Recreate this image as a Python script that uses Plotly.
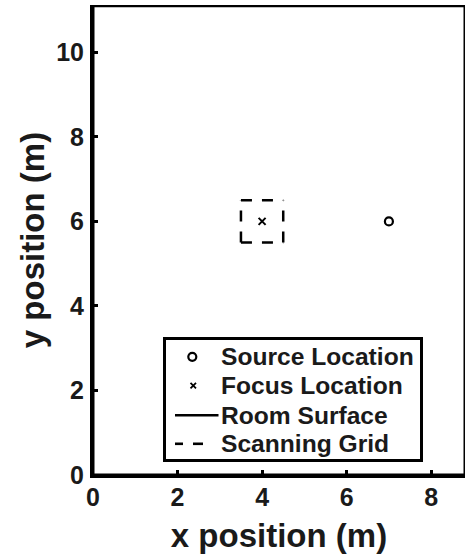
import plotly.graph_objects as go

# Room outline (m)
room_x = [0, 8.8, 8.8, 0, 0]
room_y = [0, 0, 11.1, 11.1, 0]

# Source and focus positions (m)
source_x = [7.0]
source_y = [6.0]
focus_x = [4.0]
focus_y = [6.0]

# Scanning grid edges, each drawn as its own segment
grid_x = [3.5, 4.5, None, 3.5, 4.5, None, 3.5, 3.5, None, 4.5, 4.5]
grid_y = [5.5, 5.5, None, 6.5, 6.5, None, 5.5, 6.5, None, 5.5, 6.5]

x_ticks = [0, 2, 4, 6, 8]
y_ticks = [0, 2, 4, 6, 8, 10]

legend_labels = ["Source Location", "Focus Location", "Room Surface", "Scanning Grid"]

FONT = "Liberation Sans, Arial, sans-serif"
INK = "#1a1a1a"

W, H = 466, 556
ML, MR, MT, MB = 93, 1, 5, 81
PW, PH = W - ML - MR, H - MT - MB


def bold(s):
    return f"<b>{s}</b>"


# pixel -> paper helpers for the hand-built legend box
def px(xp):
    return (xp - ML) / PW


def py(yp):
    return (H - MB - yp) / PH


fig = go.Figure()

fig.add_trace(go.Scatter(
    x=source_x, y=source_y, mode="markers", name=legend_labels[0], showlegend=False,
    marker=dict(symbol="circle-open", size=8, color="black", line=dict(width=2.2)),
))
fig.add_trace(go.Scatter(
    x=focus_x, y=focus_y, mode="markers", name=legend_labels[1], showlegend=False,
    marker=dict(symbol="x-thin-open", size=7, color="black", line=dict(width=2)),
))
fig.add_trace(go.Scatter(
    x=room_x, y=room_y, mode="lines", name=legend_labels[2], showlegend=False,
    line=dict(color="black", width=3),
))
fig.add_trace(go.Scatter(
    x=grid_x, y=grid_y, mode="lines", name=legend_labels[3], showlegend=False,
    connectgaps=False,
    line=dict(color="black", width=2.5, dash="11px,10px"),
))

# ---- legend: framed box with glyph + label per row ----
box_l, box_r, box_t, box_b = 164.5, 421.5, 338.5, 460.5
row_y = [356.8, 385.6, 415.2, 443.8]
text_x = 219.5
shapes = [
    dict(type="rect", xref="paper", yref="paper",
         x0=px(box_l), x1=px(box_r), y0=py(box_b), y1=py(box_t),
         line=dict(color="black", width=3), fillcolor="white", layer="above"),
    # circle glyph
    dict(type="circle", xref="paper", yref="paper",
         x0=px(188.3), x1=px(196.3), y0=py(row_y[0] + 4), y1=py(row_y[0] - 4),
         line=dict(color="black", width=2.2), layer="above"),
    # cross glyph
    dict(type="line", xref="paper", yref="paper",
         x0=px(190.5), x1=px(196.0), y0=py(row_y[1] - 2.8), y1=py(row_y[1] + 2.8),
         line=dict(color="black", width=1.8), layer="above"),
    dict(type="line", xref="paper", yref="paper",
         x0=px(190.5), x1=px(196.0), y0=py(row_y[1] + 2.8), y1=py(row_y[1] - 2.8),
         line=dict(color="black", width=1.8), layer="above"),
    # solid line glyph
    dict(type="line", xref="paper", yref="paper",
         x0=px(175), x1=px(218.5), y0=py(row_y[2]), y1=py(row_y[2]),
         line=dict(color="black", width=2.6), layer="above"),
    # dashed line glyph
    dict(type="line", xref="paper", yref="paper",
         x0=px(175), x1=px(183), y0=py(row_y[3]), y1=py(row_y[3]),
         line=dict(color="black", width=2.6), layer="above"),
    dict(type="line", xref="paper", yref="paper",
         x0=px(193), x1=px(203), y0=py(row_y[3]), y1=py(row_y[3]),
         line=dict(color="black", width=2.6), layer="above"),
]
annotations = [
    dict(text=bold(lbl), xref="paper", yref="paper", x=px(text_x), y=py(yy),
         xanchor="left", yanchor="middle", showarrow=False, borderpad=0,
         font=dict(family=FONT, size=24.6, color=INK, weight="bold"))
    for lbl, yy in zip(legend_labels, row_y)
]

axis_common = dict(
    showline=True, linecolor="black", linewidth=3, mirror=False,
    ticks="inside", ticklen=5, tickwidth=2.5, tickcolor="black",
    showgrid=False, zeroline=False,
    tickfont=dict(family=FONT, size=25, color=INK, weight="bold"),
)

fig.update_layout(
    width=W, height=H,
    margin=dict(l=ML, r=MR, t=MT, b=MB),
    paper_bgcolor="white", plot_bgcolor="white",
    font=dict(family=FONT, color=INK),
    showlegend=False,
    shapes=shapes,
    annotations=annotations,
    xaxis=dict(
        range=[0, 8.8], tickvals=x_ticks, ticktext=[bold(v) for v in x_ticks],
        title=dict(text=bold("x position (m)"),
                   font=dict(family=FONT, size=33, color=INK, weight="bold"), standoff=14),
        ticklabelstandoff=-2,
        **axis_common,
    ),
    yaxis=dict(
        range=[0, 11.12], tickvals=y_ticks, ticktext=[bold(v) for v in y_ticks],
        title=dict(text=bold("y position (m)"),
                   font=dict(family=FONT, size=33, color=INK, weight="bold"), standoff=2),
        ticklabelstandoff=1,
        **axis_common,
    ),
)

fig.write_html("out.html")
